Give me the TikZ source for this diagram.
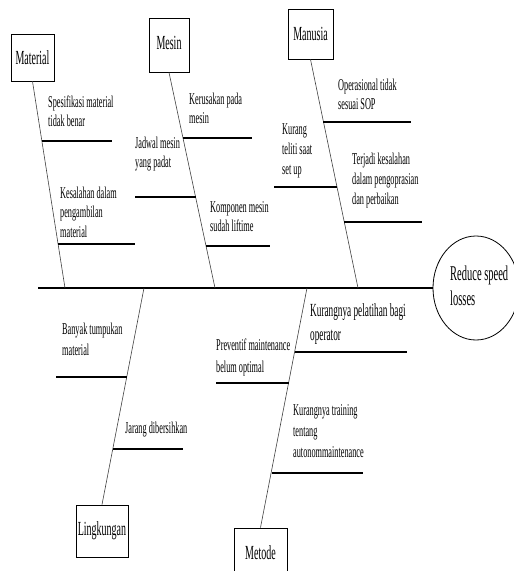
\documentclass[tikz,border=0pt]{standalone}
\usepackage{fontspec}
\usepackage{graphicx}
\usetikzlibrary{shapes.geometric}
\setmainfont{Liberation Serif}
\newcommand{\cz}[3]{\scalebox{0.5}[1]{\fontsize{#1}{#2}\selectfont\begin{tabular}[t]{@{}l@{}}#3\end{tabular}}}
\newcommand{\lbl}[1]{\scalebox{0.5}[1]{\fontsize{20}{22}\selectfont #1}}
\begin{document}
\begin{tikzpicture}[x=1pt,y=-1pt,
  box/.style={draw, line width=0.9pt, inner sep=0pt},
  cause/.style={anchor=base west, inner sep=0pt},
  hline/.style={line width=1.1pt},
  bone/.style={line width=0.6pt, black!75},
  spine/.style={line width=1.2pt}]
\useasboundingbox (0,0) rectangle (514,571);
\clip (0,0) rectangle (514,571);
% head
\node[draw, ellipse, line width=0.8pt, minimum width=86, minimum height=104, inner sep=0pt] (head) at (476,288) {};
\node[cause] (headtxt) at (450,280) {\cz{21}{25}{Reduce speed\\losses}};
% spine
\coordinate (s0) at (38,288);
\draw[spine] (s0) -- (head.west);
% category boxes
\node[box, minimum width=43, minimum height=47] (material) at (32.5,57.5) {\lbl{Material}};
\node[box, minimum width=40, minimum height=54] (mesin) at (169,45) {\raisebox{4pt}{\lbl{Mesin}}};
\node[box, minimum width=45, minimum height=50] (manusia) at (310.5,34) {\lbl{Manusia}};
\node[box, minimum width=52, minimum height=52] (lingkungan) at (102,531) {\lbl{Lingkungan}};
\node[box, minimum width=53, minimum height=50] (metode) at (260.5,553) {\lbl{Metode}};
% joints on spine
\coordinate (jmat) at (65,288);
\coordinate (jmes) at (215,288);
\coordinate (jman) at (358,288);
\coordinate (jlin) at (144,288);
\coordinate (jmet) at (307,288);
\draw[bone] (material.south) -- (jmat);
\draw[bone] (mesin.south) -- (jmes);
\draw[bone] (manusia.south) -- (jman);
\draw[bone] (lingkungan.north) -- (jlin);
\draw[bone] (metode.north) -- (jmet);
% Material causes
\coordinate (a1) at (41.6,141); \coordinate (a1e) at (112,141);
\coordinate (a2) at (58,244); \coordinate (a2e) at (135,244);
\draw[hline] (a1) -- (a1e);
\draw[hline] (a2) -- (a2e);
\node[cause] (ta1) at (48,107) {\cz{16.5}{19.5}{Spesifikasi material\\tidak benar}};
\node[cause] (ta2) at (60,198) {\cz{16.5}{19.5}{Kesalahan dalam\\pengambilan\\material}};
% Mesin causes
\coordinate (b1) at (183,138); \coordinate (b1e) at (252,138);
\coordinate (b2) at (195.6,197); \coordinate (b2e) at (135,197);
\coordinate (b3) at (206,246); \coordinate (b3e) at (270,246);
\draw[hline] (b1) -- (b1e);
\draw[hline] (b2) -- (b2e);
\draw[hline] (b3) -- (b3e);
\node[cause] (tb1) at (189,104) {\cz{16.5}{19.5}{Kerusakan pada\\mesin}};
\node[cause] (tb2) at (135,148) {\cz{16.5}{19.5}{Jadwal mesin\\yang padat}};
\node[cause] (tb3) at (210,212) {\cz{16.5}{19.5}{Komponen mesin\\sudah liftime}};
% Manusia causes
\coordinate (c1) at (323,122); \coordinate (c1e) at (411,122);
\coordinate (c2) at (337,187); \coordinate (c2e) at (274,187);
\coordinate (c3) at (344,222); \coordinate (c3e) at (422,222);
\draw[hline] (c1) -- (c1e);
\draw[hline] (c2) -- (c2e);
\draw[hline] (c3) -- (c3e);
\node[cause] (tc1) at (338,90) {\cz{16.5}{19.5}{Operasional tidak\\sesuai SOP}};
\node[cause] (tc2) at (282,134) {\cz{16.5}{20}{Kurang\\teliti saat\\set up}};
\node[cause] (tc3) at (352,164) {\cz{16.5}{20}{Terjadi kesalahan\\dalam pengoprasian\\dan perbaikan}};
% Lingkungan causes
\coordinate (d1) at (126.8,377); \coordinate (d1e) at (56,377);
\coordinate (d2) at (112.8,449); \coordinate (d2e) at (183,449);
\draw[hline] (d1) -- (d1e);
\draw[hline] (d2) -- (d2e);
\node[cause] (td1) at (62,334) {\cz{16.5}{21}{Banyak tumpukan\\material}};
\node[cause] (td2) at (125,433) {\cz{16.5}{19.5}{Jarang dibersihkan}};
% Metode causes
\coordinate (e1) at (294.7,352); \coordinate (e1e) at (407,352);
\coordinate (e2) at (288.8,383); \coordinate (e2e) at (216,383);
\coordinate (e3) at (271.5,473); \coordinate (e3e) at (363,473);
\draw[hline] (e1) -- (e1e);
\draw[hline] (e2) -- (e2e);
\draw[hline] (e3) -- (e3e);
\node[cause] (te1) at (310,316) {\cz{18.5}{24}{Kurangnya pelatihan bagi\\operator}};
\node[cause] (te2) at (216,350) {\cz{16.5}{22}{Preventif maintenance\\belum optimal}};
\node[cause] (te3) at (293,415) {\cz{16.5}{21}{Kurangnya training\\tentang\\autonommaintenance}};
\end{tikzpicture}
\end{document}
